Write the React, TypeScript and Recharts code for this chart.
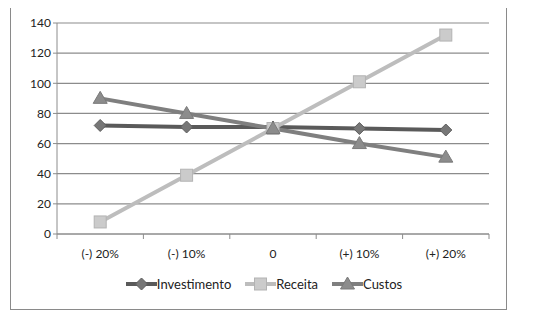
import React from 'react';
import { LineChart, Line, XAxis, YAxis, CartesianGrid, Legend } from 'recharts';

const categories = ['(-) 20%', '(-) 10%', '0', '(+) 10%', '(+) 20%'];
const investimento = [72, 71, 71, 70, 69];
const receita = [8, 39, 70, 101, 132];
const custos = [90, 80, 70, 60, 51];
const yTicks = [0, 20, 40, 60, 80, 100, 120, 140];

const data = categories.map((name, i) => ({
  name,
  Investimento: investimento[i],
  Receita: receita[i],
  Custos: custos[i],
}));

const FONT = 'Lato, "Open Sans", sans-serif';
const AXIS = '#8c8c8c';

const colors = {
  Investimento: { line: '#5a5a5a', fill: '#777777', stroke: '#5e5e5e' },
  Receita: { line: '#bdbdbd', fill: '#cbcbcb', stroke: '#b3b3b3' },
  Custos: { line: '#7f7f7f', fill: '#8c8c8c', stroke: '#7a7a7a' },
};

const Diamond = ({ cx, cy }: any) => (
  <polygon
    points={`${cx},${cy - 6} ${cx + 6},${cy} ${cx},${cy + 6} ${cx - 6},${cy}`}
    fill={colors.Investimento.fill}
    stroke={colors.Investimento.stroke}
    strokeWidth={1}
  />
);

const Square = ({ cx, cy }: any) => (
  <rect x={cx - 6} y={cy - 6} width={12} height={12} fill={colors.Receita.fill} stroke={colors.Receita.stroke} strokeWidth={1} />
);

const Triangle = ({ cx, cy }: any) => (
  <polygon
    points={`${cx},${cy - 7} ${cx + 7},${cy + 5} ${cx - 7},${cy + 5}`}
    fill={colors.Custos.fill}
    stroke={colors.Custos.stroke}
    strokeWidth={1}
  />
);

const PLOT_W = 432;
const BAND = PLOT_W / categories.length;

const XTick = ({ x, y, payload, index }: any) => (
  <g>
    <line x1={x - BAND / 2} y1={y - 8} x2={x - BAND / 2} y2={y - 3} stroke={AXIS} />
    {index === categories.length - 1 && (
      <line x1={x + BAND / 2} y1={y - 8} x2={x + BAND / 2} y2={y - 3} stroke={AXIS} />
    )}
    <text x={x} y={y + 16} textAnchor="middle" fontSize={12} fill="#222" fontFamily={FONT}>
      {payload.value}
    </text>
  </g>
);

const legendItems = [
  { name: 'Investimento', Marker: Diamond },
  { name: 'Receita', Marker: Square },
  { name: 'Custos', Marker: Triangle },
];

const renderLegend = () => (
  <div style={{ display: 'flex', justifyContent: 'center', alignItems: 'center', paddingLeft: 42, paddingTop: 7, fontFamily: FONT, fontSize: 13, color: '#222' }}>
    {legendItems.map(({ name, Marker }) => (
      <div key={name} style={{ display: 'flex', alignItems: 'center', marginRight: 14 }}>
        <svg width={31} height={14}>
          <line x1={0} y1={7} x2={31} y2={7} stroke={(colors as any)[name].line} strokeWidth={4} />
          <Marker cx={15.5} cy={7} />
        </svg>
        <span>{name}</span>
      </div>
    ))}
  </div>
);

export default function App() {
  return (
    <div style={{ position: 'relative', left: 2, top: -4, width: 495, height: 304, border: '1px solid #8a8a8a', background: '#fff' }}>
      <LineChart width={495} height={304} data={data} margin={{ top: 18, right: 17, bottom: 10, left: 0 }}>
        <CartesianGrid vertical={false} stroke={AXIS} strokeWidth={1.2} />
        <XAxis
          dataKey="name"
          tick={<XTick />}
          tickLine={false}
          axisLine={{ stroke: AXIS }}
          height={35}
          interval={0}
          padding={{ left: BAND / 2, right: BAND / 2 }}
        />
        <YAxis
          domain={[0, 140]}
          ticks={yTicks}
          width={46}
          tickSize={4}
          tickLine={{ stroke: AXIS }}
          axisLine={{ stroke: AXIS }}
          tick={{ fontSize: 12, fill: '#222', fontFamily: FONT }}
          interval={0}
        />
        <Legend verticalAlign="bottom" height={30} content={renderLegend} />
        <Line dataKey="Investimento" stroke={colors.Investimento.line} strokeWidth={4} dot={<Diamond />} isAnimationActive={false} />
        <Line dataKey="Receita" stroke={colors.Receita.line} strokeWidth={4} dot={<Square />} isAnimationActive={false} />
        <Line dataKey="Custos" stroke={colors.Custos.line} strokeWidth={4} dot={<Triangle />} isAnimationActive={false} />
      </LineChart>
    </div>
  );
}
